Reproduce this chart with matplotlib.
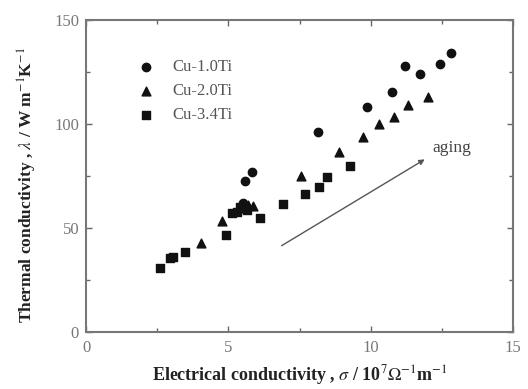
import matplotlib
matplotlib.use("Agg")
import matplotlib.pyplot as plt
from matplotlib.ticker import MultipleLocator

plt.rcParams["mathtext.fontset"] = "stix"

# Data (sigma in 10^7 S/m, lambda in W/mK)
cu10_x = [5.53, 5.58, 5.84, 8.16, 9.86, 10.74, 11.20, 11.73, 12.43, 12.82]
cu10_y = [62.0, 72.6, 77.1, 96.3, 108.0, 115.2, 128.0, 124.0, 128.8, 134.0]

cu20_x = [4.04, 4.77, 5.45, 5.70, 5.88, 7.54, 8.90, 9.72, 10.30, 10.83, 11.32, 12.03]
cu20_y = [42.9, 53.4, 59.5, 61.0, 60.7, 75.0, 86.7, 93.9, 100.0, 103.2, 109.1, 113.1]

cu34_x = [2.60, 2.95, 3.07, 3.48, 4.92, 5.12, 5.29, 5.41, 5.64, 6.11, 6.91, 7.69, 8.20, 8.45, 9.27]
cu34_y = [30.6, 35.4, 35.9, 38.6, 46.8, 57.1, 57.8, 60.2, 58.7, 54.7, 61.4, 66.3, 69.9, 74.7, 80.0]

labels = ["Cu-1.0Ti", "Cu-2.0Ti", "Cu-3.4Ti"]
xticks = [0, 5, 10, 15]
yticks = [0, 50, 100, 150]

arrow_start = (6.87, 41.5)
arrow_end = (11.9, 83.0)

fig = plt.figure(figsize=(5.28, 3.89), dpi=100)
ax = fig.add_axes([0.163, 0.1465, 0.8086, 0.802])

serif = ["Liberation Serif", "DejaVu Serif"]

ax.scatter(cu10_x, cu10_y, marker="o", s=36, color="#111111", label=labels[0], zorder=3)
ax.scatter(cu20_x, cu20_y, marker="^", s=40, color="#111111", label=labels[1], zorder=3)
ax.scatter(cu34_x, cu34_y, marker="s", s=30, color="#111111", label=labels[2], zorder=3)

ax.set_xlim(0, 15)
ax.set_ylim(0, 150)
ax.set_xticks(xticks)
ax.set_yticks(yticks)
ax.xaxis.set_minor_locator(MultipleLocator(2.5))
ax.yaxis.set_minor_locator(MultipleLocator(25))
ax.tick_params(which="both", direction="in", top=True, right=True, color="#666666",
               labelcolor="#777777", labelsize=12)
ax.tick_params(which="major", length=4, width=1)
ax.tick_params(which="minor", length=3, width=1)
ax.tick_params(axis="x", pad=6)
ax.tick_params(axis="y", pad=5)
for lab in ax.get_xticklabels() + ax.get_yticklabels():
    lab.set_fontfamily(serif)
for sp in ax.spines.values():
    sp.set_color("#777777")
    sp.set_linewidth(1.5)

ax.set_xlabel(r"Electrical conductivity , $\sigma$ / 10$^7$$\Omega^{-1}$m$^{-1}$",
              fontfamily=serif, fontweight="bold", fontsize=13, color="#222222", labelpad=5)
ax.set_ylabel(r"Thermal conductivity , $\lambda$ / W m$^{-1}$K$^{-1}$",
              fontfamily=serif, fontweight="bold", fontsize=12.5, color="#222222", labelpad=4)
ax.yaxis.set_label_coords(-0.11, 0.47)

leg = ax.legend(loc="upper left", bbox_to_anchor=(0.085, 0.895), frameon=False,
                prop={"family": serif, "size": 12}, handletextpad=0.6, handlelength=2.0,
                labelspacing=0.48, borderaxespad=0)
for t in leg.get_texts():
    t.set_color("#555555")

ax.annotate("", xy=arrow_end, xytext=arrow_start,
            arrowprops=dict(arrowstyle="-|>", color="#555555", lw=1.0,
                            mutation_scale=8, shrinkA=0, shrinkB=0))
ax.text(12.15, 88.5, "aging", fontfamily=serif, fontsize=12.5, color="#444444",
        ha="left", va="center")

fig.savefig("out.png", dpi=100)
